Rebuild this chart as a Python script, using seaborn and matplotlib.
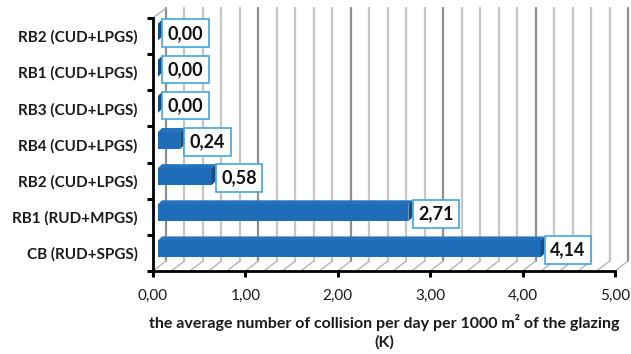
import numpy as np
import pandas as pd
import matplotlib
matplotlib.use("Agg")
import matplotlib.pyplot as plt
import seaborn as sns
from matplotlib.patches import Polygon
from matplotlib.lines import Line2D
from matplotlib.transforms import ScaledTranslation, IdentityTransform
from matplotlib.ticker import FuncFormatter, FixedLocator

# data (top to bottom)
buildings = ["RB2 (CUD+LPGS)", "RB1 (CUD+LPGS)", "RB3 (CUD+LPGS)", "RB4 (CUD+LPGS)",
             "RB2 (CUD+LPGS)", "RB1 (RUD+MPGS)", "CB (RUD+SPGS)"]
collisions = [0.00, 0.00, 0.00, 0.24, 0.58, 2.71, 4.14]
x_ticks = [0, 1, 2, 3, 4, 5]
x_label = "the average number of collision per day per 1000 m\u00b2 of the glazing\n(K)"

sns.set_theme(style="white")
plt.rcParams["font.family"] = ["Lato", "DejaVu Sans"]

BAR = "#1F6DB8"
BAR_END = "#164F88"
BAR_TOP = "#2572BD"
BOX_EDGE = "#41A7DD"

fig = plt.figure(figsize=(6.31, 3.54), dpi=100)
W, H = 631, 354
ax = fig.add_axes([153 / W, (H - 271) / H, 462 / W, 253 / H])

df = pd.DataFrame({"slot": list(range(len(buildings))), "value": collisions})
sns.barplot(data=df, x="value", y="slot", orient="h", color=BAR, width=0.47,
            saturation=1, ax=ax, zorder=3)

ax.set_xlim(0, 5)
ax.set_ylim(len(buildings) - 0.5, -0.5)
ax.set_facecolor("none")
for s in ["top", "right"]:
    ax.spines[s].set_visible(False)
for s in ["left", "bottom"]:
    ax.spines[s].set_color("black")
    ax.spines[s].set_linewidth(2.0)
    ax.spines[s].set_zorder(6)

# y labels at category centres, tick marks at category boundaries
ax.set_yticks(range(len(buildings)))
ax.set_yticklabels(buildings, fontsize=11, fontweight="bold", color="#1a1a1a")
ax.yaxis.set_minor_locator(FixedLocator(np.arange(-0.5, len(buildings), 1.0)))
ax.tick_params(axis="y", which="major", length=0, pad=11)
ax.tick_params(axis="y", which="minor", length=4, width=2.2, color="black", left=True)

ax.xaxis.set_major_locator(FixedLocator(x_ticks))
ax.xaxis.set_major_formatter(FuncFormatter(lambda v, p: f"{v:.2f}".replace(".", ",")))
ax.tick_params(axis="x", which="major", length=4, width=2.2, color="black",
               bottom=True, pad=9, labelsize=11, labelcolor="#1a1a1a")
ax.set_xlabel(x_label, fontsize=11.5, fontweight="bold", color="#1a1a1a",
              labelpad=8, linespacing=1.3)
ax.set_ylabel("")

# 3D depth of the plotting box, in pixels
DEPTH_X, DEPTH_Y = 13, 10
BAR_DX, BAR_DY = 5, 4      # front face of the bars sits slightly inside the box
CAP_DX, CAP_DY = 4, 4      # depth of each bar

def to_px(x, y):
    return ax.transData.transform((x, y))

def px_line(xs, ys, **kw):
    ax.add_artist(Line2D(xs, ys, transform=IdentityTransform(), clip_on=False, **kw))

def px_poly(pts, **kw):
    ax.add_artist(Polygon(pts, closed=True, transform=IdentityTransform(),
                          clip_on=False, edgecolor="none", **kw))

y_bottom, y_top = ax.get_ylim()
grid_x = np.round(np.arange(0, 5.0001, 0.2), 2)
for gx in grid_x:
    major = abs(gx - round(gx)) < 1e-6
    b = to_px(gx, y_bottom)
    t = to_px(gx, y_top)
    # back wall gridline
    px_line([b[0] + DEPTH_X, t[0] + DEPTH_X], [b[1] + DEPTH_Y, t[1] + DEPTH_Y],
            lw=1.6, color="#8f8f8f" if major else "#c6c6c6", zorder=0.5)
    # floor diagonal
    px_line([b[0], b[0] + DEPTH_X], [b[1], b[1] + DEPTH_Y],
            lw=1.0, color="#b5b5b5", zorder=0.5)

# top edge of the side wall
t0 = to_px(0, y_top)
px_line([t0[0], t0[0] + DEPTH_X], [t0[1], t0[1] + DEPTH_Y], lw=1.0, color="#b5b5b5", zorder=0.5)

# bars: shift front faces into the box and add top / end faces
shift = ScaledTranslation(BAR_DX / 100, BAR_DY / 100, fig.dpi_scale_trans)
for p in ax.patches:
    p.set_transform(ax.transData + shift)
    p.set_edgecolor("none")
    y0 = p.get_y()
    y1 = y0 + p.get_height()
    x_end = p.get_x() + p.get_width()
    a = to_px(p.get_x(), y0) + (BAR_DX, BAR_DY)
    e_top = to_px(x_end, y0) + (BAR_DX, BAR_DY)
    e_bot = to_px(x_end, y1) + (BAR_DX, BAR_DY)
    px_poly([a, e_top, e_top + (CAP_DX, CAP_DY), a + (CAP_DX, CAP_DY)],
            facecolor=BAR_TOP, zorder=2.9)
    px_poly([e_top, e_bot, e_bot + (CAP_DX, CAP_DY), e_top + (CAP_DX, CAP_DY)],
            facecolor=BAR_END, zorder=3.1)

# value labels in framed boxes
for i, v in enumerate(collisions):
    ax.annotate(f"{v:.2f}".replace(".", ","), xy=(v, i), xytext=(10.5, 2),
                textcoords="offset points", ha="left", va="center",
                fontsize=13, fontweight="bold", color="#111111", zorder=7,
                bbox=dict(boxstyle="square,pad=0.3", fc="white", ec=BOX_EDGE, lw=1.2),
                annotation_clip=False)

fig.savefig("out.png", dpi=100)
